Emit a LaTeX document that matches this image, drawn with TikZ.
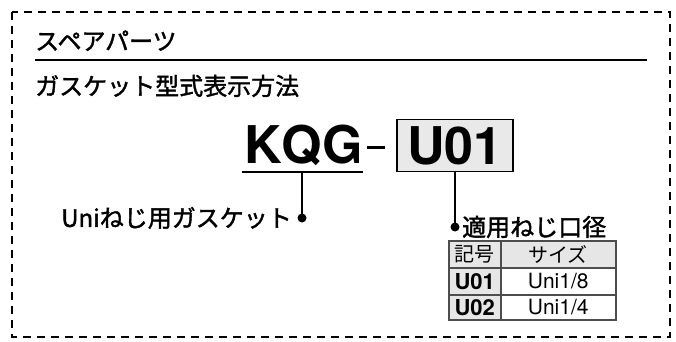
\documentclass[tikz,border=0pt]{standalone}
\usepackage{fontspec}
\setmainfont{Noto Sans CJK JP}
\newfontfamily\jpm{Noto Sans CJK JP}[FakeBold=1.6]
\newfontfamily\helv{TeX Gyre Heros}
\definecolor{boxgray}{HTML}{E9E9E9}
\definecolor{cellgray}{HTML}{E6E6E6}
\definecolor{rulegray}{HTML}{4D4D4D}
\begin{document}
\begin{tikzpicture}[x=1pt,y=-1pt,
  jp/.style={inner sep=0pt, font=\jpm\fontsize{24}{24}\selectfont},
  big/.style={inner sep=0pt, font=\helv\bfseries\fontsize{52}{52}\selectfont},
  cell/.style={draw=rulegray, line width=1.5pt, anchor=north west, inner sep=0pt,
    minimum height=27pt, font=\fontsize{20}{20}\selectfont},
  keycell/.style={cell, fill=cellgray, minimum width=52pt},
  valcell/.style={cell, minimum width=115pt},
  keyfont/.style={font=\helv\bfseries\fontsize{22}{22}\selectfont},
  valfont/.style={font=\helv\fontsize{21}{21}\selectfont},
  dotline/.style={line width=1.6pt}]
\useasboundingbox (0,0) rectangle (676,342);
% dashed frame
\draw[line width=2pt, dash pattern=on 8pt off 6pt] (12,12) rectangle (670,337);
% heading
\node[jp, anchor=base west] (title) at (35,50) {スペアパーツ};
\draw[line width=2pt] (35,60) -- (647,60);
\node[jp, anchor=base west] (sub) at (35,95) {ガスケット型式表示方法};
% code
\node[big, anchor=base west] (kqg) at (244,163) {KQG};
\draw[line width=2pt] (242,172) -- (363,172);
\coordinate (kqgu) at (302,172);
\draw[line width=3pt] (367,147) -- (385,147);
\node[draw, line width=1.5pt, fill=boxgray, minimum width=116pt, minimum height=52pt,
  inner sep=0pt, font=\helv\bfseries\fontsize{52}{52}\selectfont] (box) at (455,145.5) {U01};
% leaders
\coordinate (dotA) at (302,218);
\coordinate (dotB) at (455,227);
\draw[dotline] (kqgu) -- (dotA);
\draw[dotline] (box.south) -- (dotB);
\fill (dotA) circle (4.5);
\fill (dotB) circle (4.5);
\node[jp, anchor=east] (labA) at (292,218) {Uniねじ用ガスケット};
\node[jp, anchor=west] (labB) at (462,227) {適用ねじ口径};
% table
\node[keycell] (h1) at (448,240) {記号};
\node[valcell, fill=cellgray] (h2) at (500,240) {サイズ};
\node[keycell, keyfont] (r1a) at (448,267) {U01};
\node[valcell, valfont] (r1b) at (500,267) {Uni1/8};
\node[keycell, keyfont, minimum height=25pt] (r2a) at (448,294) {U02};
\node[valcell, valfont, minimum height=25pt] (r2b) at (500,294) {Uni1/4};
\end{tikzpicture}
\end{document}
